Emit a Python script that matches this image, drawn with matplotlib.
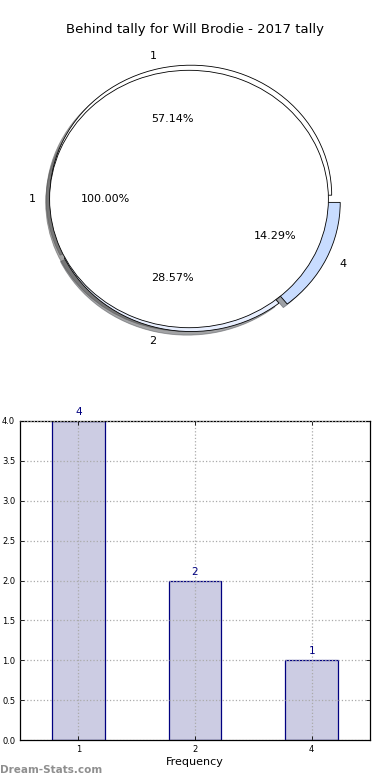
import matplotlib
matplotlib.use("Agg")
import matplotlib.pyplot as plt
import numpy as np

title = "Behind tally for Will Brodie - 2017 tally"
pie_labels = ["1", "2", "4"]
pie_values = [4, 2, 1]
pie_colors = ["#ffffff", "#e8efff", "#c8dcff"]
inner_labels = ["1"]
inner_values = [1]
bar_labels = ["1", "2", "4"]
bar_values = [4, 2, 1]

fig = plt.figure(figsize=(3.9, 7.8), dpi=100)

# --- pie ---
axp = fig.add_axes([13/390, 1 - 361.5/780, 352/390, 325/780])
axp.pie(pie_values, labels=pie_labels, colors=pie_colors, startangle=0,
        explode=(0.03, 0.02, 0.06), shadow=True, autopct="%.2f%%",
        center=(0.02, 0.0), radius=1.0,
        wedgeprops=dict(edgecolor="black", linewidth=0.6),
        textprops=dict(fontsize=8))
axp.pie(inner_values, labels=inner_labels, colors=["#ffffff"], startangle=0,
        shadow=True, autopct="%.2f%%", center=(0.0, 0.0), radius=0.99,
        wedgeprops=dict(edgecolor="black", linewidth=0.6),
        textprops=dict(fontsize=8))
axp.set_aspect("auto")
axp.set_xlim(-1.25, 1.25)
axp.set_ylim(-1.25, 1.25)
axp.axis("off")
fig.text(0.5, 1 - 30/780, title, ha="center", va="center", fontsize=9.5)

# --- bar ---
axb = fig.add_axes([20/390, 40/780, 350/390, 319/780])
x = np.arange(len(bar_values))
bars = axb.bar(x, bar_values, width=0.45, color="#ccccE3", edgecolor="navy",
               linewidth=0.9, zorder=2)
for xi, v in zip(x, bar_values):
    axb.text(xi, v + 0.05, str(v), ha="center", va="bottom", color="navy", fontsize=7.5)
axb.set_xlim(-0.5, 2.5)
axb.set_ylim(0, 4.0)
axb.set_yticks(np.arange(0, 4.01, 0.5))
axb.set_yticklabels([f"{t:.1f}" for t in np.arange(0, 4.01, 0.5)])
axb.set_xticks(x)
axb.set_xticklabels(bar_labels)
axb.tick_params(labelsize=6, direction="in", top=True, right=True, length=3, width=0.6)
axb.grid(True, linestyle=":", color="#aaaaaa", linewidth=0.9, zorder=3)
axb.set_axisbelow(False)
axb.set_xlabel("Frequency", fontsize=8, labelpad=2)
for s in axb.spines.values():
    s.set_linewidth(0.9)
fig.text(0, 1 - 770/780, "Dream-Stats.com", ha="left", va="center",
         fontsize=7.5, color="#8f8f8f", fontweight="bold")

fig.savefig("out.png", dpi=100)
